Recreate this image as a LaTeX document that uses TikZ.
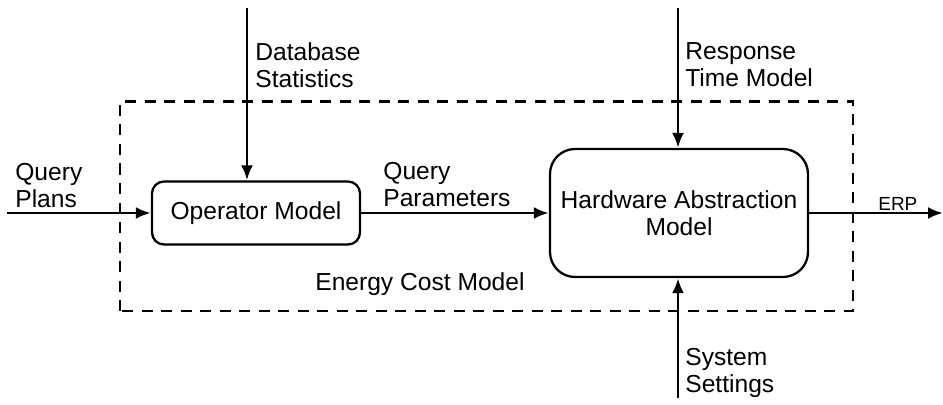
\documentclass[tikz,border=0pt]{standalone}
\usepackage{fontspec}
\setmainfont{Liberation Sans}
\usepackage{tikz}
\usetikzlibrary{arrows.meta, positioning}

\tikzset{
    block/.style={draw, line width=1.3pt, rounded corners=#1, align=center},
    block/.default=0.24cm,
    flow/.style={-{Latex[length=3mm, width=2.4mm]}, line width=1.6pt},
    lbl/.style={anchor=north west, inner sep=0pt, align=left},
}

\begin{document}
\begin{tikzpicture}[font=\fontsize{14}{15.4}\selectfont]
    \useasboundingbox (0,0) rectangle (18.86,8.08);

    % 1. Dashed frame (energy cost model)
    \draw[line width=1.5pt, dash pattern=on 0.22cm off 0.17cm]
        (2.4,1.86) rectangle (17.06,6.05);

    % 2. The two models
    \node[block, minimum width=4.16cm, minimum height=1.26cm]
        (opmodel) at (5.12,3.82) {Operator Model};
    \node[block=0.5cm, minimum width=5.16cm, minimum height=2.56cm]
        (hwmodel) at (13.58,3.82) {Hardware Abstraction\\Model};

    % 3. Loose ends of the inputs and the output
    \coordinate (plansin) at (0.14,3.82);
    \coordinate (statsin) at (4.94,7.92);
    \coordinate (respin) at (13.56,7.92);
    \coordinate (setin) at (13.56,0.12);
    \coordinate (erpout) at (18.86,3.82);

    % 4. Arrows
    \draw[flow] (plansin) -- (opmodel.west);
    \draw[flow] (statsin) -- (statsin |- opmodel.north);
    \draw[flow] (opmodel.east) -- (hwmodel.west |- opmodel.east);
    \draw[flow] (respin) -- (respin |- hwmodel.north);
    \draw[flow] (setin) -- (setin |- hwmodel.south);
    \draw[flow] (hwmodel.east |- erpout) -- (erpout);

    % 5. Labels
    \node[lbl] (plans) at (0.3,4.82) {Query\\Plans};
    \node[lbl] (stats) at (5.10,7.24) {Database\\Statistics};
    \node[lbl] (params) at (7.66,4.84) {Query\\Parameters};
    \node[lbl] (resp) at (13.70,7.24) {Response\\Time Model};
    \node[lbl] (settings) at (13.70,1.12) {System\\Settings};
    \node[lbl, font=\fontsize{10.8}{12}\selectfont] (erp) at (17.56,4.14) {ERP};
    \node[lbl] (ecm) at (6.30,2.64) {Energy Cost Model};
\end{tikzpicture}
\end{document}
